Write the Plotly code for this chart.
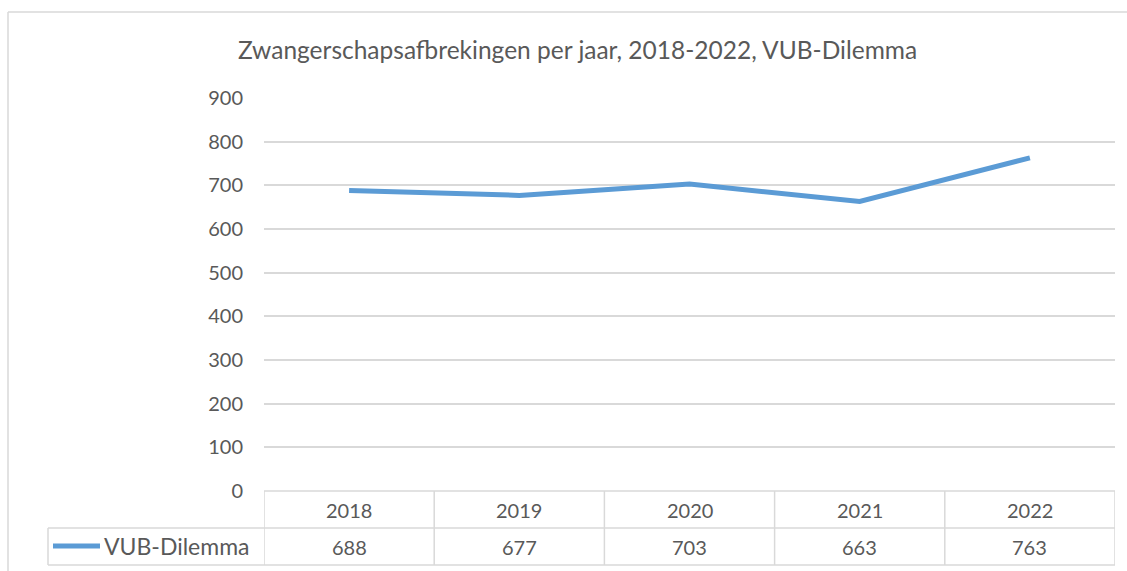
import plotly.graph_objects as go

years = ["2018", "2019", "2020", "2021", "2022"]
values = [688, 677, 703, 663, 763]
series_name = "VUB-Dilemma"
title_text = "Zwangerschapsafbrekingen per jaar, 2018-2022, VUB-Dilemma"
y_ticks = [0, 100, 200, 300, 400, 500, 600, 700, 800, 900]

W, H = 1127, 571
LINE_COLOR = "#5B9BD5"
TEXT_COLOR = "#595959"
GRID_COLOR = "#D9D9D9"
FONT = "Lato, 'Open Sans', sans-serif"

def px(x):
    return x / W

def py(y):
    return 1 - y / H

x_left, x_right = 264, 1115
y_top, y_zero = 98, 491
row1_bot, row2_bot = 528, 565
legend_left = 48

fig = go.Figure()
fig.add_trace(go.Scatter(
    x=years, y=values, mode="lines", name=series_name,
    line=dict(color=LINE_COLOR, width=5), showlegend=False, hoverinfo="skip",
))

shapes = []
fl = dict(color=GRID_COLOR, width=1.5)
# outer chart frame
shapes.append(dict(type="line", xref="paper", yref="paper", x0=px(8), x1=1, y0=py(12), y1=py(12), line=fl))
shapes.append(dict(type="line", xref="paper", yref="paper", x0=px(8), x1=px(8), y0=py(12), y1=0, line=fl))
# data table lines
tl = dict(color=GRID_COLOR, width=1.5)
shapes.append(dict(type="line", xref="paper", yref="paper", x0=px(x_left), x1=px(x_right), y0=py(y_zero), y1=py(y_zero), line=tl))
shapes.append(dict(type="line", xref="paper", yref="paper", x0=px(legend_left), x1=px(x_right), y0=py(row1_bot), y1=py(row1_bot), line=tl))
shapes.append(dict(type="line", xref="paper", yref="paper", x0=px(legend_left), x1=px(x_right), y0=py(row2_bot), y1=py(row2_bot), line=tl))
shapes.append(dict(type="line", xref="paper", yref="paper", x0=px(legend_left), x1=px(legend_left), y0=py(row1_bot), y1=py(row2_bot), line=tl))
for i in range(len(years) + 1):
    shapes.append(dict(type="line", xref="x", yref="paper", x0=i - 0.5, x1=i - 0.5,
                       y0=py(y_zero), y1=py(row2_bot), line=tl))
# legend key line
shapes.append(dict(type="line", xref="paper", yref="paper", x0=px(53), x1=px(100),
                   y0=py(546), y1=py(546), line=dict(color=LINE_COLOR, width=5)))

annotations = []
for i, (yr, v) in enumerate(zip(years, values)):
    annotations.append(dict(x=i, xref="x", y=py(510), yref="paper", text=yr, showarrow=False,
                            yanchor="middle",
                            font=dict(family=FONT, size=20, color=TEXT_COLOR)))
    annotations.append(dict(x=i, xref="x", y=py(547), yref="paper", text=str(v), showarrow=False,
                            yanchor="middle",
                            font=dict(family=FONT, size=20, color=TEXT_COLOR)))
annotations.append(dict(x=px(102), xref="paper", y=py(546), yref="paper", text=series_name,
                        showarrow=False, xanchor="left", yanchor="middle",
                        font=dict(family=FONT, size=23, color=TEXT_COLOR)))
annotations.append(dict(x=px(577), xref="paper", y=py(50), yref="paper", text=title_text,
                        showarrow=False, xanchor="center", yanchor="middle",
                        font=dict(family=FONT, size=24.5, color=TEXT_COLOR)))

fig.update_layout(
    width=W, height=H, autosize=False,
    margin=dict(l=0, r=0, t=0, b=0, pad=0, autoexpand=False),
    paper_bgcolor="white", plot_bgcolor="white",
    shapes=shapes, annotations=annotations,
    xaxis=dict(domain=[px(x_left), px(x_right)], range=[-0.5, 4.5], type="category",
               showticklabels=False, showgrid=False, zeroline=False, showline=False,
               automargin=False),
    yaxis=dict(domain=[py(y_zero), py(y_top)], range=[0, 900], tickvals=y_ticks,
               showgrid=True, gridcolor=GRID_COLOR, gridwidth=1.5, zeroline=False, showline=False,
               ticklabelstandoff=20, automargin=False,
               tickfont=dict(family=FONT, size=20, color=TEXT_COLOR)),
    showlegend=False,
)

fig.write_html(
    "out.html",
    config={"displayModeBar": False},
    post_script="document.body.style.margin='0';document.body.style.overflow='hidden';",
)
